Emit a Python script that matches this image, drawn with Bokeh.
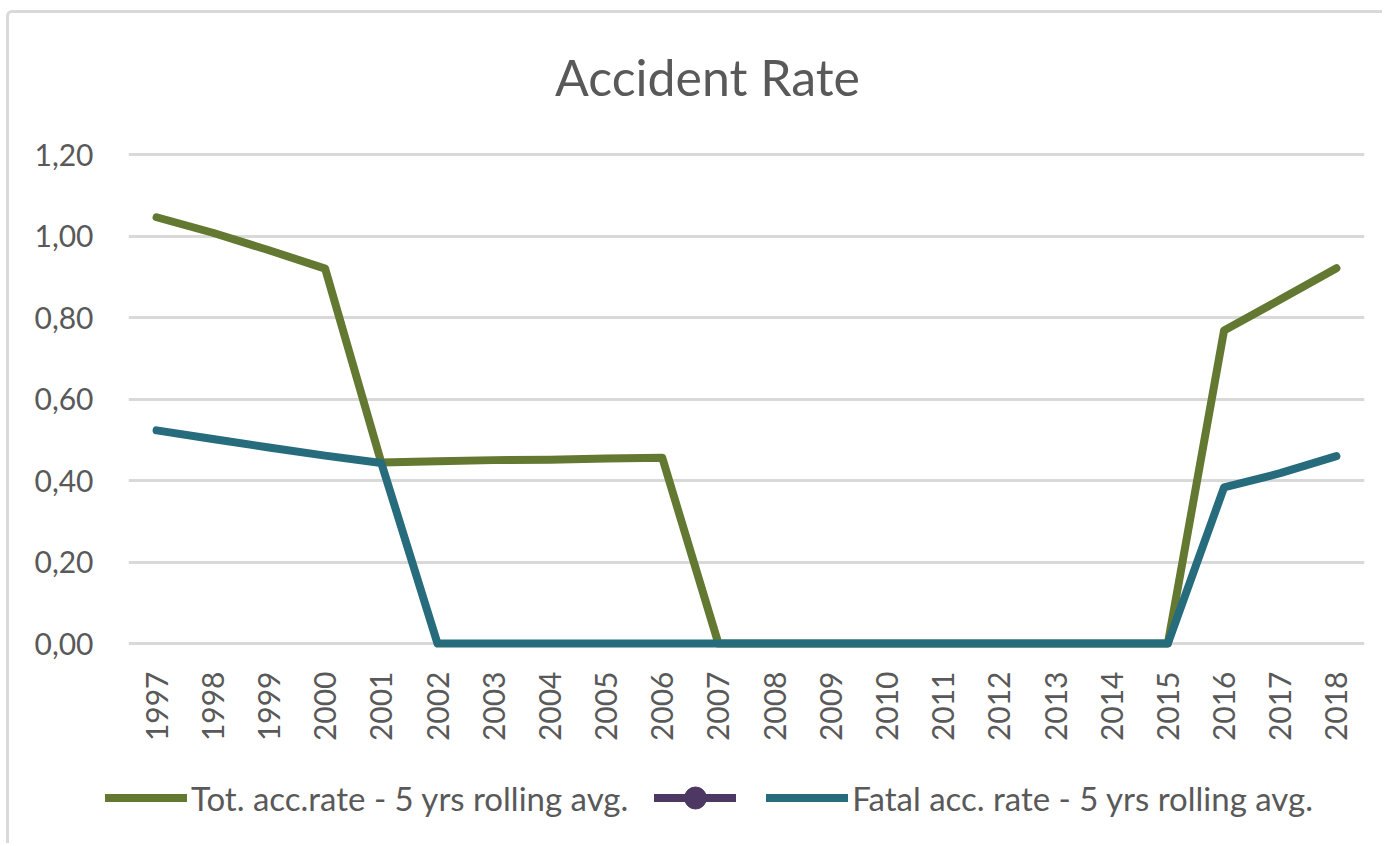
from bokeh.plotting import figure
from bokeh.layouts import column, row
from bokeh.models import (FactorRange, Range1d, FixedTicker, CustomJSTickFormatter,
                          Legend, LegendItem, Label)
from bokeh.embed import file_html
from bokeh.resources import INLINE
import math

# ---- data ----
years = [str(y) for y in range(1997, 2019)]
tot_rate = [1.046, 1.008, 0.965, 0.920, 0.444, 0.447, 0.450, 0.451, 0.454, 0.456,
            0.0, 0.0, 0.0, 0.0, 0.0, 0.0, 0.0, 0.0, 0.0,
            0.768, 0.844, 0.921]
fatal_rate = [0.523, 0.502, 0.481, 0.461, 0.443,
              0.0, 0.0, 0.0, 0.0, 0.0, 0.0, 0.0, 0.0, 0.0, 0.0, 0.0, 0.0, 0.0, 0.0,
              0.383, 0.418, 0.460]
empty_series = [float("nan")] * len(years)
y_ticks = [0.0, 0.2, 0.4, 0.6, 0.8, 1.0, 1.2]
title_text = "Accident Rate"
label_tot = "Tot. acc.rate - 5 yrs rolling avg."
label_fatal = "Fatal acc. rate - 5 yrs rolling avg."

FONT = "Lato"
TXT = "#595959"
GRID = "#D9D9D9"
GREEN = "#637830"
TEAL = "#266C7C"
PURPLE = "#4C3862"

ppu = 489 / 1.2          # pixels per unit
pad = 5 / ppu

W = 1373
FRAME_W = 1236
H_TITLE = 110
H_MAIN = 630
H_LEG = 90


def strip(height, x_range, y_range):
    f = figure(width=W, height=height, x_range=x_range, y_range=y_range,
               output_backend="svg", toolbar_location=None,
               x_axis_location=None, y_axis_location=None,
               min_border=0, min_border_left=0, min_border_right=0,
               min_border_top=0, min_border_bottom=0)
    f.outline_line_color = None
    f.xgrid.grid_line_color = None
    f.ygrid.grid_line_color = None
    f.background_fill_color = "white"
    f.border_fill_color = "white"
    return f


# ---- title strip ----
ts = strip(H_TITLE, Range1d(0, FRAME_W), Range1d(H_TITLE, 0))
ts.add_layout(Label(x=579, y=63, text=title_text, text_align="center",
                    text_baseline="alphabetic", text_font=FONT,
                    text_font_size="50px", text_color=TXT))

# ---- main chart ----
p = figure(width=W, height=H_MAIN,
           x_range=FactorRange(*years),
           y_range=Range1d(-pad, 1.2 + pad),
           output_backend="svg", toolbar_location=None,
           min_border_left=119, min_border_right=18,
           min_border_top=26, min_border_bottom=H_MAIN - 26 - 499)
p.outline_line_color = None
p.background_fill_color = "white"
p.border_fill_color = "white"

p.xaxis.axis_line_color = None
p.xaxis.major_tick_line_color = None
p.xaxis.minor_tick_line_color = None
p.xaxis.major_label_orientation = math.pi / 2
p.xaxis.major_label_text_font = FONT
p.xaxis.major_label_text_font_size = "30px"
p.xaxis.major_label_text_color = TXT
p.xaxis.major_label_standoff = 17

p.yaxis.axis_line_color = None
p.yaxis.major_tick_line_color = None
p.yaxis.minor_tick_line_color = None
p.yaxis.ticker = FixedTicker(ticks=y_ticks)
p.yaxis.formatter = CustomJSTickFormatter(code="return tick.toFixed(2).replace('.', ',');")
p.yaxis.major_label_text_font = FONT
p.yaxis.major_label_text_font_size = "30px"
p.yaxis.major_label_text_color = TXT
p.yaxis.major_label_standoff = 29

p.xgrid.grid_line_color = None
p.ygrid.grid_line_color = GRID
p.ygrid.grid_line_width = 3
p.ygrid.ticker = FixedTicker(ticks=y_ticks)

p.line(years, tot_rate, line_color=GREEN, line_width=8,
       line_cap="round", line_join="round")
p.line(years, fatal_rate, line_color=TEAL, line_width=8,
       line_cap="round", line_join="round")

# ---- legend strip ----
lg = strip(H_LEG, FactorRange(*years), Range1d(10, 11))  # series lie outside view
l_tot = lg.line(years, tot_rate, line_color=GREEN, line_width=8, line_cap="round")
l_e1 = lg.line(years, empty_series, line_color=PURPLE, line_width=8, line_cap="round")
l_e2 = lg.scatter(years, empty_series, marker="circle", size=22,
                  fill_color=PURPLE, line_color=PURPLE)
l_fat = lg.line(years, fatal_rate, line_color=TEAL, line_width=8, line_cap="round")

legend = Legend(items=[LegendItem(label=label_tot, renderers=[l_tot]),
                       LegendItem(label=" ", renderers=[l_e1, l_e2]),
                       LegendItem(label=label_fatal, renderers=[l_fat])],
                orientation="horizontal", location=(96, 18),
                glyph_width=82, glyph_height=55, label_standoff=4, label_width=0,
                spacing=26, padding=0, margin=0,
                label_text_font=FONT, label_text_font_size="33px", label_text_color=TXT,
                border_line_color=None, background_fill_alpha=0)
lg.add_layout(legend, "center")

layout = column(ts, p, row(lg, spacing=0), spacing=0)
layout.styles = {"margin-left": "6px", "margin-top": "10px",
                 "border-left": "3px solid #D9D9D9", "border-top": "3px solid #D9D9D9",
                 "border-top-left-radius": "6px"}

open("out.html", "w").write(file_html(layout, INLINE))
